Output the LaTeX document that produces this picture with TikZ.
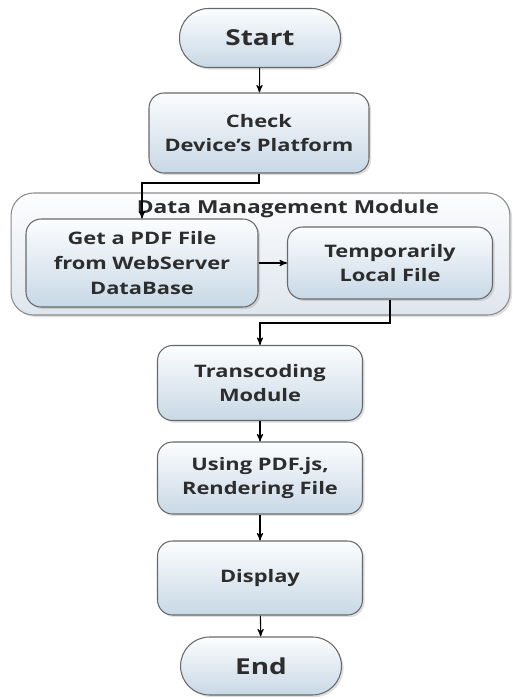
\documentclass[tikz,border=0pt]{standalone}
\usepackage{fontspec}
\setmainfont{Open Sans}[FakeStretch=1.27]
\usepackage{tikz}
\usetikzlibrary{arrows,shadows}
\definecolor{box_top}{RGB}{252,253,254}
\definecolor{box_bot}{RGB}{200,216,230}
\definecolor{box_edge}{RGB}{105,105,105}
\definecolor{mod_top}{RGB}{253,253,254}
\definecolor{mod_bot}{RGB}{222,230,237}
\definecolor{mod_edge}{RGB}{140,140,140}
\definecolor{txt_gray}{RGB}{45,45,45}

\begin{document}
\begin{tikzpicture}[->,semithick,>=stealth',x=0.02cm,y=-0.02cm]
    \tikzstyle{base}=[draw=box_edge, rectangle, top color=box_top, bottom color=box_bot, text=txt_gray, align=center, font=\fontsize{9.8}{14}\selectfont\bfseries, drop shadow={opacity=0.25, shadow xshift=1.2pt, shadow yshift=-1.2pt}]
    \tikzstyle{proc}=[style=base, rounded corners=0.3cm, minimum width=4.1cm, minimum height=1.5cm]
    \tikzstyle{term}=[style=base, rounded corners=0.58cm, minimum width=3.22cm, minimum height=1.18cm, font=\fontsize{12.5}{14}\selectfont\bfseries]
    \tikzstyle{module}=[draw=mod_edge, rectangle, rounded corners=0.45cm, top color=mod_top, bottom color=mod_bot, minimum width=9.98cm, minimum height=2.44cm, drop shadow={opacity=0.25, shadow xshift=1.2pt, shadow yshift=-1.2pt}]

    \useasboundingbox (0,0) rectangle (512,699);

    \node[module]                                          (dmm)    at (260.5,254) {};
    \node[text=txt_gray, font=\fontsize{10.2}{12}\selectfont\bfseries] (dmmtitle) at (288,209) {Data Management Module};

    \node[term]                                            (start)  at (260,38)  {Start};
    \node[proc, minimum width=4.4cm, minimum height=1.6cm] (check)  at (259,133) {Check\\Device's Platform};
    \node[proc, minimum width=4.64cm, minimum height=1.76cm] (get)  at (142,263) {Get a PDF File\\from WebServer\\DataBase};
    \node[proc, minimum height=1.44cm]                     (temp)   at (390,263) {Temporarily\\Local File};
    \node[proc]                                            (trans)  at (260,383) {Transcoding\\Module};
    \node[proc, minimum height=1.44cm]                     (render) at (260,478) {Using PDF.js,\\Rendering File};
    \node[proc, minimum height=1.48cm]                     (disp)   at (260,578) {Display};
    \node[term, minimum height=1.16cm]                     (end)    at (261,666) {End};

    \coordinate (k1) at (259,183);
    \coordinate (k2) at (390,323);

    \path
     (start)  edge (check)
     (get)    edge (temp)
     (trans)  edge (render)
     (render) edge (disp)
     (disp)   edge (end)
     ;
    \draw (check.south) -- (k1) -| (get.north);
    \draw (temp.south) -- (k2) -| (trans.north);
\end{tikzpicture}
\end{document}
